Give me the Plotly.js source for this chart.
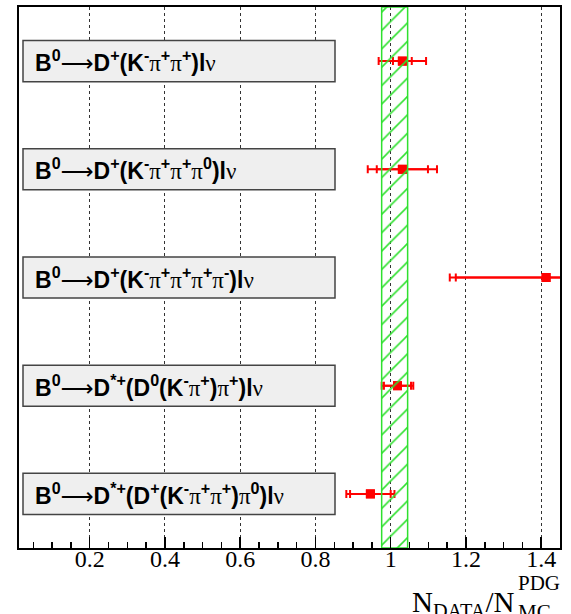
<!DOCTYPE html>
<html>
<head>
<meta charset="utf-8">
<script src="https://cdn.plot.ly/plotly-3.0.1.min.js"></script>
<style>html,body{margin:0;padding:0;background:#fff;}</style>
</head>
<body>
<div id="chart" style="width:571px;height:614px;"></div>
<script>
// ---- data ----
const categories = [
  'B<sup>0</sup>→D<sup>+</sup>(K<sup>-</sup>π<sup>+</sup>π<sup>+</sup>)lν',
  'B<sup>0</sup>→D<sup>+</sup>(K<sup>-</sup>π<sup>+</sup>π<sup>+</sup>π<sup>0</sup>)lν',
  'B<sup>0</sup>→D<sup>+</sup>(K<sup>-</sup>π<sup>+</sup>π<sup>+</sup>π<sup>+</sup>π<sup>-</sup>)lν',
  'B<sup>0</sup>→D<sup>*+</sup>(D<sup>0</sup>(K<sup>-</sup>π<sup>+</sup>)π<sup>+</sup>)lν',
  'B<sup>0</sup>→D<sup>*+</sup>(D<sup>+</sup>(K<sup>-</sup>π<sup>+</sup>π<sup>+</sup>)π<sup>0</sup>)lν'
];
const ratio    = [1.031, 1.031, 1.413, 1.018, 0.946];
const statErr  = [0.025, 0.068, 0.240, 0.036, 0.054];
const totalErr = [0.063, 0.092, 0.256, 0.042, 0.064];
const bandLow  = 0.976;
const bandHigh = 1.045;

// ---- helpers ----
const styled = s => s
  .replace(/[πν]/g, m => `<span style="font-family:'Liberation Serif',serif;font-weight:normal">${m}</span>`)
  .replace('→', `<span style="font-family:'DejaVu Sans',sans-serif;font-weight:normal">⟶</span>`);
const pxX = px => (px - 19) / 541;
const pxY = py => (548 - py) / 541;

const traces = [
  {
    type: 'bar',
    x: [(bandLow + bandHigh) / 2],
    y: [1],
    width: [bandHigh - bandLow],
    yaxis: 'y2',
    marker: {
      color: 'rgba(0,0,0,0)',
      line: {color: '#2fe02f', width: 1.5},
      pattern: {shape: '/', fgcolor: '#2fe02f', bgcolor: 'rgba(0,0,0,0)', size: 13, solidity: 0.12}
    },
    hoverinfo: 'skip',
    showlegend: false
  },
  {
    type: 'scatter', mode: 'markers',
    x: ratio, y: categories,
    error_x: {type: 'data', array: totalErr, color: '#ff0000', thickness: 2, width: 4},
    marker: {symbol: 'square', size: 9, color: '#ff0000'},
    showlegend: false
  },
  {
    type: 'scatter', mode: 'markers',
    x: ratio, y: categories,
    error_x: {type: 'data', array: statErr, color: '#ff0000', thickness: 2, width: 4},
    marker: {symbol: 'square', size: 9, color: '#ff0000'},
    showlegend: false
  }
];

const shapes = categories.map((c, i) => ({
  type: 'rect', xref: 'paper', yref: 'y',
  x0: pxX(23), x1: pxX(335), y0: i - 0.19, y1: i + 0.19,
  fillcolor: '#efefef', line: {color: '#444', width: 1.5}, layer: 'above'
}));

const annotations = categories.map(c => ({
  xref: 'paper', yref: 'y', x: pxX(33), y: c, xanchor: 'left', yanchor: 'middle',
  text: styled(c), showarrow: false,
  font: {family: 'Liberation Sans, Arial, sans-serif', size: 23, weight: 'bold', color: '#000'}
}));

annotations.push(
  {xref: 'paper', yref: 'paper', x: pxX(516), y: pxY(604), xanchor: 'right', yanchor: 'middle',
   text: 'N<sub>DATA</sub>/N', showarrow: false,
   font: {family: 'Liberation Serif, serif', size: 29, color: '#000'}},
  {xref: 'paper', yref: 'paper', x: pxX(516), y: pxY(583), xanchor: 'left', yanchor: 'middle',
   text: 'PDG', showarrow: false,
   font: {family: 'Liberation Serif, serif', size: 21, color: '#000'}},
  {xref: 'paper', yref: 'paper', x: pxX(516), y: pxY(612), xanchor: 'left', yanchor: 'middle',
   text: 'MC', showarrow: false,
   font: {family: 'Liberation Serif, serif', size: 21, color: '#000'}}
);

const layout = {
  width: 571, height: 614,
  margin: {l: 19, r: 11, t: 7, b: 66, pad: 0},
  paper_bgcolor: '#fff', plot_bgcolor: '#fff',
  showlegend: false,
  xaxis: {
    range: [0.012, 1.45],
    tick0: 0, dtick: 0.2,
    showgrid: true, griddash: 'dot', gridcolor: '#333', gridwidth: 1,
    zeroline: false,
    ticks: 'inside', ticklen: 11, tickwidth: 1.5, tickcolor: '#000',
    ticklabelstandoff: -12,
    minor: {dtick: 0.05, tick0: 0, ticks: 'inside', ticklen: 6, tickwidth: 1.5, tickcolor: '#000', showgrid: false},
    showline: true, mirror: true, linewidth: 2, linecolor: '#000',
    tickfont: {family: 'Liberation Serif, serif', size: 24, color: '#000'}
  },
  yaxis: {
    type: 'category', categoryorder: 'array', categoryarray: categories,
    range: [4.5, -0.5],
    showticklabels: false, showgrid: false, zeroline: false, ticks: '',
    showline: true, mirror: true, linewidth: 2, linecolor: '#000'
  },
  yaxis2: {overlaying: 'y', range: [0, 1], visible: false, fixedrange: true},
  shapes: shapes,
  annotations: annotations
};

Plotly.newPlot('chart', traces, layout, {displayModeBar: false, staticPlot: true});
</script>
</body>
</html>
